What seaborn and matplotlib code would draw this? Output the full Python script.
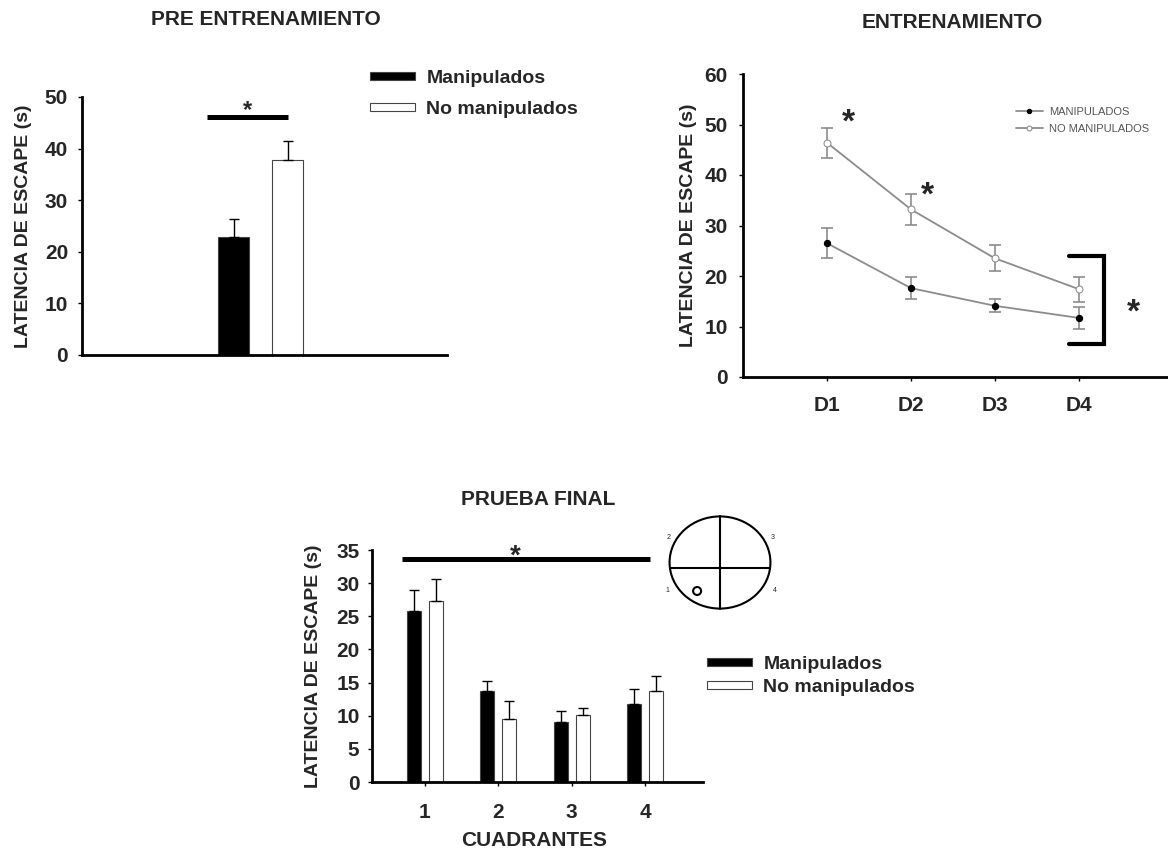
import matplotlib
matplotlib.use("Agg")
import matplotlib.pyplot as plt
import matplotlib.transforms as mtransforms
from matplotlib.patches import Ellipse
import pandas as pd
import seaborn as sns


# ---------------------------------------------------------------------
# Data
# ---------------------------------------------------------------------
groups = ["Manipulados", "No manipulados"]

# Pre entrenamiento
pre_means = [22.9, 37.7]
pre_err = [3.4, 3.8]

# Entrenamiento
days = ["D1", "D2", "D3", "D4"]
day_pos = [1, 2, 3, 4]
train_manip = [26.5, 17.6, 14.1, 11.7]
train_manip_err = [3.0, 2.2, 1.3, 2.1]
train_nomanip = [46.4, 33.2, 23.5, 17.4]
train_nomanip_err = [3.0, 3.1, 2.6, 2.5]

# Prueba final
quadrants = ["1", "2", "3", "4"]
final_manip = [25.8, 13.7, 9.1, 11.7]
final_manip_err = [3.2, 1.5, 1.6, 2.3]
final_nomanip = [27.3, 9.5, 10.1, 13.7]
final_nomanip_err = [3.3, 2.7, 1.1, 2.3]

YLABEL = "LATENCIA DE ESCAPE (s)"
W, H = 1168, 856
bar_palette = {"Manipulados": "black", "No manipulados": "white"}
line_gray = "#8c8c8c"

sns.set_style("ticks")
plt.rcParams["font.family"] = ["Liberation Sans", "DejaVu Sans"]
plt.rcParams["font.weight"] = "bold"

fig = plt.figure(figsize=(W / 100, H / 100), dpi=100)


# ---------------------------------------------------------------------
# Helpers
# ---------------------------------------------------------------------
def px_axes(left, top, right, bottom):
    return fig.add_axes([left / W, 1 - bottom / H, (right - left) / W, (bottom - top) / H])


def style_axis(ax, xpad=11, ypad=7):
    sns.despine(ax=ax)
    for side in ["left", "bottom"]:
        ax.spines[side].set_linewidth(2)
        ax.spines[side].set_color("black")
    ax.tick_params(direction="out", length=3, width=1, color="black", labelsize=15)
    ax.tick_params(axis="x", pad=xpad)
    ax.tick_params(axis="y", pad=ypad)


def add_up_errors(ax, errs_by_hue, capsize=3.5):
    bars = list(ax.containers)[:len(errs_by_hue)]
    for container, errs in zip(bars, errs_by_hue):
        for bar, e in zip(container, errs):
            x = bar.get_x() + bar.get_width() / 2
            ax.errorbar(x, bar.get_height(), yerr=[[0], [e]], fmt="none",
                        ecolor="black", elinewidth=1, capsize=capsize, capthick=1)


def star(ax, x, y, size):
    tr = mtransforms.offset_copy(ax.transData, fig=fig, x=0, y=-0.58 * size, units="points")
    ax.text(x, y, "*", fontsize=size, fontweight="bold", ha="center", va="baseline",
            transform=tr, clip_on=False)


def bar_legend(ax, left, top, spacing):
    handles, labels = ax.get_legend_handles_labels()
    ax.legend(handles, labels, loc="upper left", bbox_to_anchor=(left / W, 1 - top / H),
              bbox_transform=fig.transFigure, frameon=False, prop={"size": 14, "weight": "bold"},
              handlelength=2.3, handleheight=0.3, handletextpad=0.6, labelspacing=spacing,
              borderpad=0, borderaxespad=0)


# ---------------------------------------------------------------------
# Pre entrenamiento
# ---------------------------------------------------------------------
ax1 = px_axes(82, 97, 447, 355)
pre_df = pd.DataFrame({"fase": ["pre"] * 2, "grupo": groups, "latencia": pre_means})
sns.barplot(data=pre_df, x="fase", y="latencia", hue="grupo", palette=bar_palette,
            width=1.08, gap=0.426, edgecolor="#444444", linewidth=0.8, errorbar=None, ax=ax1)
add_up_errors(ax1, [[pre_err[0]], [pre_err[1]]])
ax1.set_xlim(-1.785, 1.865)
ax1.set_ylim(0, 50)
ax1.set_yticks(range(0, 51, 10))
ax1.set_xticks([])
ax1.set_xlabel("")
ax1.set_ylabel(YLABEL, fontsize=14, fontweight="bold")
ax1.yaxis.set_label_coords(-0.137, 0.5)
style_axis(ax1)
ax1.plot([-0.535, 0.275], [46.1, 46.1], color="black", lw=3.6, solid_capstyle="butt", clip_on=False)
star(ax1, -0.13, 48.8, 17)
bar_legend(ax1, 370, 70, 0.72)
fig.text(266 / W, 1 - 25 / H, "PRE ENTRENAMIENTO", fontsize=15, fontweight="bold",
         ha="center", va="baseline")


# ---------------------------------------------------------------------
# Entrenamiento
# ---------------------------------------------------------------------
ax2 = px_axes(743, 74, 1167, 377)
ax2.errorbar(day_pos, train_manip, yerr=train_manip_err, fmt="none", ecolor=line_gray,
             elinewidth=1.2, capsize=4.3, capthick=1.2, zorder=1)
ax2.errorbar(day_pos, train_nomanip, yerr=train_nomanip_err, fmt="none", ecolor=line_gray,
             elinewidth=1.2, capsize=4.3, capthick=1.2, zorder=1)
sns.lineplot(x=day_pos, y=train_manip, ax=ax2, color=line_gray, lw=1.3, marker="o",
             markersize=4.5, markerfacecolor="black", markeredgecolor="black",
             label="MANIPULADOS")
sns.lineplot(x=day_pos, y=train_nomanip, ax=ax2, color=line_gray, lw=1.3, marker="o",
             markersize=5, markerfacecolor="white", markeredgecolor=line_gray,
             label="NO MANIPULADOS")
ax2.set_xlim(0, 5.05)
ax2.set_ylim(0, 60)
ax2.set_yticks(range(0, 61, 10))
ax2.set_xticks(day_pos)
ax2.set_xticklabels(days)
ax2.set_ylabel(YLABEL, fontsize=14, fontweight="bold")
ax2.yaxis.set_label_coords(-0.108, 0.5)
style_axis(ax2, xpad=11, ypad=8)
ax2.legend(loc="upper left", bbox_to_anchor=(1016 / W, 1 - 107 / H), bbox_transform=fig.transFigure,
           frameon=False, prop={"size": 8, "weight": "normal"}, labelcolor="#555555",
           handlelength=2.4, handletextpad=0.6, labelspacing=0.6, markerscale=0.7,
           borderpad=0, borderaxespad=0)
ax2.plot([3.88, 4.30, 4.30, 3.88], [24.0, 24.0, 6.5, 6.5], color="black", lw=3,
         solid_joinstyle="miter", clip_on=False)
star(ax2, 1.25, 52.5, 24)
star(ax2, 2.2, 38.0, 24)
star(ax2, 4.65, 14.9, 24)
fig.text(952 / W, 1 - 28 / H, "ENTRENAMIENTO", fontsize=15, fontweight="bold",
         ha="center", va="baseline")


# ---------------------------------------------------------------------
# Prueba final
# ---------------------------------------------------------------------
ax3 = px_axes(372, 550, 703, 782)
final_df = pd.DataFrame({
    "cuadrante": quadrants * 2,
    "grupo": [groups[0]] * len(quadrants) + [groups[1]] * len(quadrants),
    "latencia": final_manip + final_nomanip,
})
sns.barplot(data=final_df, x="cuadrante", y="latencia", hue="grupo", palette=bar_palette,
            width=0.6, gap=0.367, edgecolor="#444444", linewidth=0.8, errorbar=None, ax=ax3)
add_up_errors(ax3, [final_manip_err, final_nomanip_err])
ax3.set_xlim(-0.72, 3.79)
ax3.set_ylim(0, 35)
ax3.set_yticks(range(0, 36, 5))
ax3.set_xlabel("CUADRANTES", fontsize=15, fontweight="bold")
ax3.xaxis.set_label_coords(0.49, -0.21)
ax3.set_ylabel(YLABEL, fontsize=14, fontweight="bold")
ax3.yaxis.set_label_coords(-0.151, 0.5)
style_axis(ax3, xpad=12, ypad=6)
ax3.plot([-0.31, 3.07], [33.6, 33.6], color="black", lw=3.6, solid_capstyle="butt", clip_on=False)
star(ax3, 1.23, 35.3, 20)
bar_legend(ax3, 707, 656, 0.3)
fig.text(538 / W, 1 - 505 / H, "PRUEBA FINAL", fontsize=15, fontweight="bold",
         ha="center", va="baseline")

# pool diagram with the platform in quadrant 1
axc = fig.add_axes([668 / W, 1 - 610 / H, 104 / W, 95 / H])
axc.set_xlim(0, 1)
axc.set_ylim(0, 1)
axc.axis("off")
axc.add_patch(Ellipse((0.5, 0.5), 0.97, 0.97, fill=False, lw=1.5, ec="black"))
axc.plot([0.5, 0.5], [0.015, 0.985], color="black", lw=1.5)
axc.plot([0.015, 0.985], [0.44, 0.44], color="black", lw=1.5)
axc.add_patch(Ellipse((0.28, 0.2), 0.077, 0.084, fill=False, lw=1.5, ec="black"))
for lab, (qx, qy) in zip(["2", "3", "1", "4"], [(0.01, 0.76), (1.01, 0.76), (-0.01, 0.2), (1.03, 0.2)]):
    axc.text(qx, qy, lab, fontsize=5, fontweight="normal", ha="center", va="center", clip_on=False)

fig.savefig("out.png", dpi=100)
